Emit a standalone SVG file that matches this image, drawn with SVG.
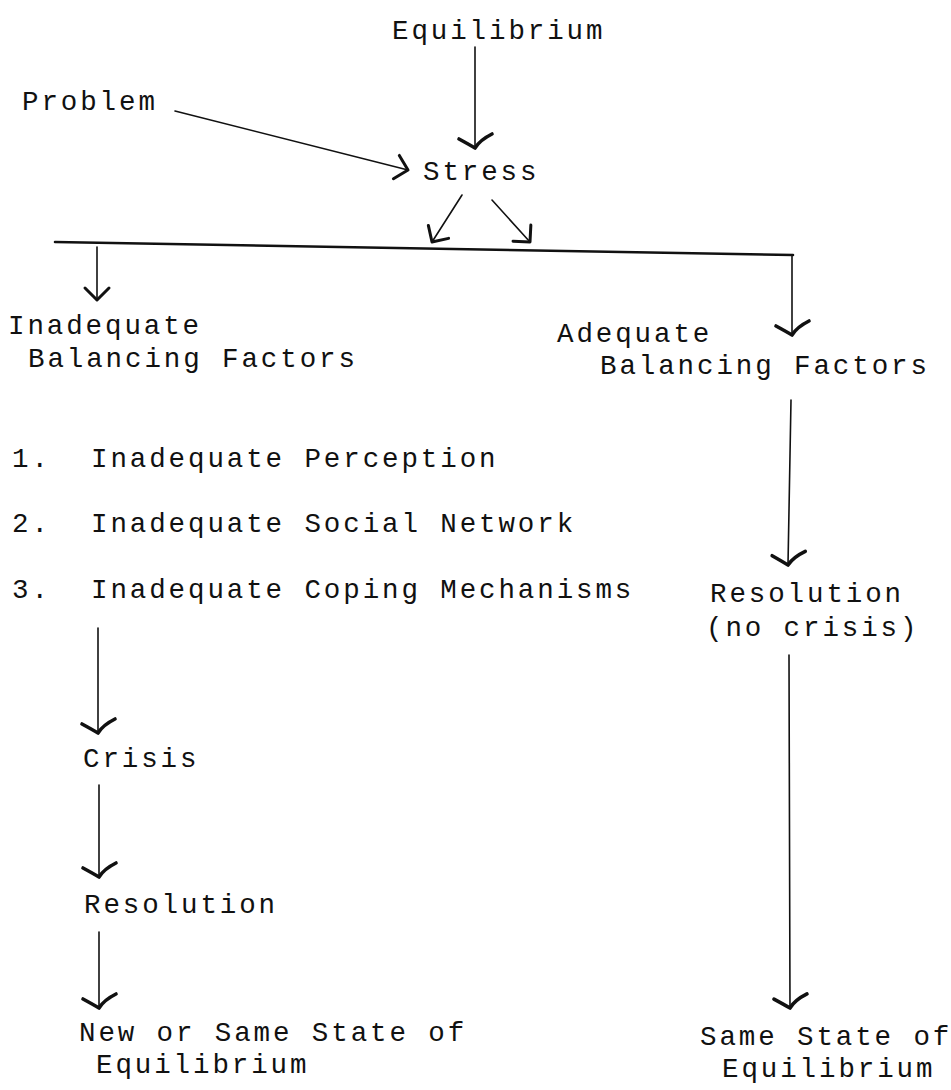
<svg xmlns="http://www.w3.org/2000/svg" width="951" height="1090" viewBox="0 0 951 1090">
  <style>
    .t { font-family: "Liberation Mono", "DejaVu Sans Mono", monospace; font-size: 27.5px; letter-spacing: 2.9px; fill: #111; }
    .ln { stroke: #111; stroke-width: 1.6; fill: none; stroke-linecap: round; }
    .bar { stroke: #111; stroke-width: 2.6; fill: none; stroke-linecap: round; }
    .chk { marker-end: url(#check); }
    .vee { marker-end: url(#vee); }
  </style>
  <defs>
    <marker id="check" markerUnits="userSpaceOnUse" viewBox="-30 -30 60 60" markerWidth="60" markerHeight="60" refX="0" refY="0" orient="auto" overflow="visible">
      <path d="M -9 16 Q -3 5 0 0 Q -8 -5 -14 -17" fill="none" stroke="#111" stroke-width="3.6" stroke-linecap="round" stroke-linejoin="round"/>
    </marker>
    <marker id="vee" markerUnits="userSpaceOnUse" viewBox="-30 -30 60 60" markerWidth="60" markerHeight="60" refX="0" refY="0" orient="auto" overflow="visible">
      <path d="M -12 -12 L 0 0 L -12 12" fill="none" stroke="#111" stroke-width="3" stroke-linecap="round" stroke-linejoin="round"/>
    </marker>
  </defs>
  <rect width="951" height="1090" fill="#fff"/>

  <g id="connectors">
    <line class="ln chk" x1="475" y1="47" x2="475" y2="148"/>
    <line class="ln vee" x1="175" y1="111" x2="408" y2="170"/>
    <line class="ln vee" x1="462" y1="195" x2="432" y2="242"/>
    <line class="ln vee" x1="492" y1="200" x2="530" y2="242"/>
    <line class="bar" x1="55" y1="242" x2="793" y2="255"/>
    <line class="ln vee" x1="97" y1="247" x2="97" y2="300"/>
    <line class="ln chk" x1="792" y1="255" x2="792" y2="335"/>
    <line class="ln chk" x1="791" y1="400" x2="788" y2="565"/>
    <line class="ln chk" x1="789" y1="655" x2="790" y2="1008"/>
    <line class="ln chk" x1="98" y1="628" x2="98" y2="733"/>
    <line class="ln chk" x1="99" y1="785" x2="99" y2="877"/>
    <line class="ln chk" x1="99" y1="932" x2="99" y2="1008"/>
  </g>

  <g id="equilibrium"><text class="t" x="392" y="39">Equilibrium</text></g>
  <g id="problem"><text class="t" x="22" y="110">Problem</text></g>
  <g id="stress"><text class="t" x="423" y="180">Stress</text></g>
  <g id="inadequate-balancing">
    <text class="t" x="8" y="334">Inadequate</text>
    <text class="t" x="28" y="367">Balancing Factors</text>
  </g>
  <g id="adequate-balancing">
    <text class="t" x="557" y="342">Adequate</text>
    <text class="t" x="600" y="374">Balancing Factors</text>
  </g>
  <g id="item-1">
    <text class="t" x="12" y="467">1.</text>
    <text class="t" x="91" y="467">Inadequate Perception</text>
  </g>
  <g id="item-2">
    <text class="t" x="12" y="532">2.</text>
    <text class="t" x="91" y="532">Inadequate Social Network</text>
  </g>
  <g id="item-3">
    <text class="t" x="12" y="598">3.</text>
    <text class="t" x="91" y="598">Inadequate Coping Mechanisms</text>
  </g>
  <g id="resolution-no-crisis">
    <text class="t" x="710" y="602">Resolution</text>
    <text class="t" x="706" y="636">(no crisis)</text>
  </g>
  <g id="crisis"><text class="t" x="83" y="767">Crisis</text></g>
  <g id="resolution"><text class="t" x="84" y="913">Resolution</text></g>
  <g id="new-or-same-state">
    <text class="t" x="79" y="1041">New or Same State of</text>
    <text class="t" x="96" y="1073">Equilibrium</text>
  </g>
  <g id="same-state">
    <text class="t" x="700" y="1045">Same State of</text>
    <text class="t" x="722" y="1077">Equilibrium</text>
  </g>
</svg>
